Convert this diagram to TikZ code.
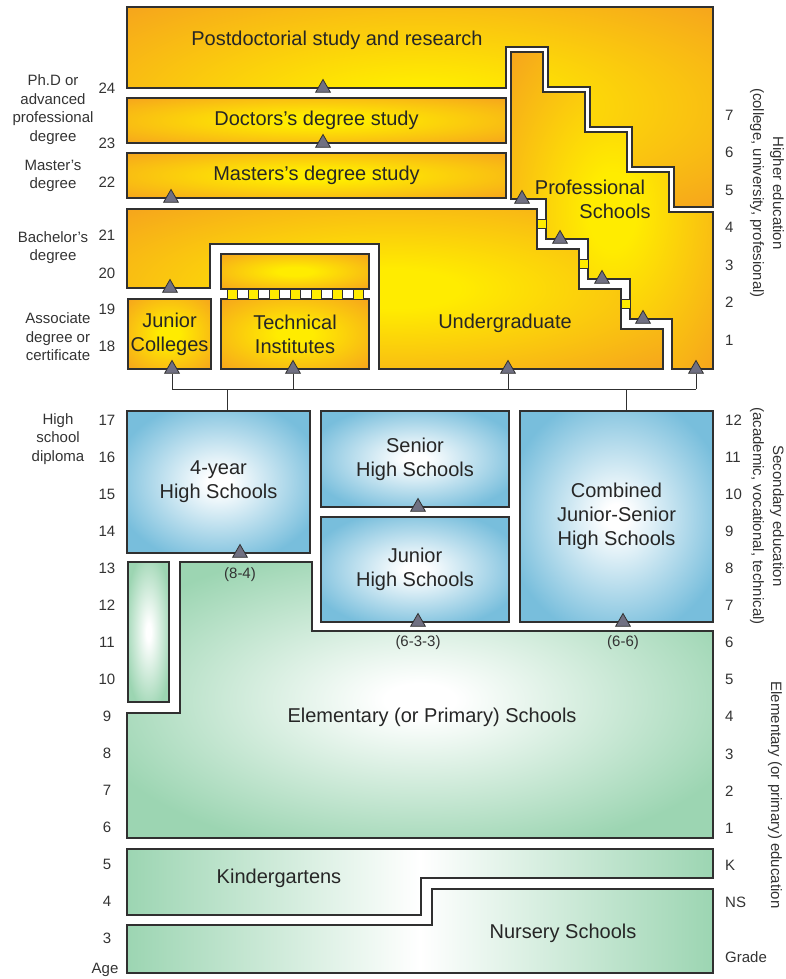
\documentclass[tikz,border=0pt]{standalone}
\usepackage{fontspec}
\setmainfont{Liberation Sans}
\usetikzlibrary{shapes.geometric}
\definecolor{gold}{RGB}{246,166,28}
\definecolor{lemon}{RGB}{255,236,0}
\definecolor{sky}{RGB}{120,190,220}
\definecolor{mint}{RGB}{156,213,178}
\definecolor{rim}{RGB}{48,48,48}
\definecolor{slate}{RGB}{112,112,130}
\pgfdeclareradialshading{glowgold}{\pgfpoint{0bp}{0bp}}{color(0bp)=(lemon); color(6bp)=(lemon); color(35bp)=(gold); color(50bp)=(gold)}
\pgfdeclareradialshading{glowsky}{\pgfpoint{0bp}{0bp}}{color(0bp)=(white); color(3bp)=(white); color(29bp)=(sky); color(50bp)=(sky)}
\pgfdeclareradialshading{glowmint}{\pgfpoint{0bp}{0bp}}{color(0bp)=(white); color(3bp)=(white); color(29bp)=(mint); color(50bp)=(mint)}
\tikzset{higher/.style={draw=rim,line width=1.2pt,shading=glowgold},secondary/.style={draw=rim,line width=1.2pt,shading=glowsky},primary/.style={draw=rim,line width=1.2pt,shading=glowmint},band/.style={draw=rim,line width=1.2pt,left color=mint,right color=mint,middle color=white},rung/.style={draw=rim,line width=.8pt,fill=lemon},entry/.style={regular polygon,regular polygon sides=3,draw=rim,fill=slate,line width=.8pt,minimum size=17pt,inner sep=0pt},feed/.style={draw=rim,line width=1pt},boxtext/.style={font=\fontsize{20}{24}\selectfont,text=black!85,align=center,inner sep=0pt},age/.style={font=\fontsize{15}{18}\selectfont,text=black!80,inner sep=0pt},note/.style={font=\fontsize{15}{18.5}\selectfont,text=black!80,align=center,inner sep=0pt}}
\begin{document}
\begin{tikzpicture}[x=1pt,y=-1pt]
\useasboundingbox (0,0) rectangle (785,979);
% higher education
\shadedraw[higher] (127,7) -- (713,7) -- (713,207) -- (674,207) -- (674,167) -- (632,167) -- (632,127) -- (590,127) -- (590,87) -- (548,87) -- (548,47) -- (506,47) -- (506,88) -- (127,88) -- cycle;
\node[boxtext] (postdoc) at (337,40) {Postdoctorial study and research};
\node[higher,shade,boxtext,minimum width=379pt,minimum height=45pt] (doctor) at (316.5,120.5) {Doctors's degree study};
\node[higher,shade,boxtext,minimum width=379pt,minimum height=45pt] (master) at (316.5,175.5) {Masters's degree study};
\shadedraw[higher] (511,52) -- (543,52) -- (543,92) -- (585,92) -- (585,132) -- (627,132) -- (627,172) -- (669,172) -- (669,212) -- (713,212) -- (713,369) -- (672,369) -- (672,319) -- (630,319) -- (630,279) -- (588,279) -- (588,239) -- (546,239) -- (546,199) -- (511,199) -- cycle;
\node[boxtext] (prof1) at (590,187) {Professional};
\node[boxtext] (prof2) at (615,211) {Schools};
\shadedraw[higher] (127,209) -- (537,209) -- (537,249) -- (579,249) -- (579,289) -- (621,289) -- (621,329) -- (663,329) -- (663,369) -- (379,369) -- (379,244) -- (210,244) -- (210,288) -- (127,288) -- cycle;
\node[boxtext] (under) at (505,323) {Undergraduate};
\node[higher,shade,boxtext,minimum width=83pt,minimum height=70pt] (jcol) at (169.5,334) {Junior\\Colleges};
\node[higher,shade,minimum width=148pt,minimum height=35pt] (techup) at (295,271.5) {};
\node[higher,shade,boxtext,minimum width=148pt,minimum height=70pt] (tech) at (295,334) {Technical\\Institutes};
\foreach \k in {0,...,6} \draw[rung] ({227+21*\k},289) rectangle ++(10,10);
\foreach \x/\y in {537/219,579/259,621/299} \draw[rung] (\x,\y) rectangle ++(9,9);
% secondary
\node[secondary,shade,boxtext,minimum width=183pt,minimum height=142pt] (hs4) at (218.5,482) {4-year\\High Schools};
\node[secondary,shade,boxtext,minimum width=188pt,minimum height=96pt] (senior) at (415,459) {Senior\\High Schools};
\node[secondary,shade,boxtext,minimum width=188pt,minimum height=105pt] (junior) at (415,569.5) {Junior\\High Schools};
\node[secondary,shade,boxtext,minimum width=193pt,minimum height=211pt] (combo) at (616.5,516.5) {Combined\\Junior-Senior\\High Schools};
% elementary and below
\node[primary,shade,minimum width=41pt,minimum height=140pt] (elemleft) at (148.5,632) {};
\shadedraw[primary] (180,562) -- (312,562) -- (312,631) -- (713,631) -- (713,838) -- (127,838) -- (127,713) -- (180,713) -- cycle;
\node[boxtext] (elem) at (432,717) {Elementary (or Primary) Schools};
\shadedraw[band] (127,849) -- (713,849) -- (713,878) -- (421,878) -- (421,915) -- (127,915) -- cycle;
\node[boxtext] (kinder) at (279,878) {Kindergartens};
\shadedraw[band] (432,889) -- (713,889) -- (713,973) -- (127,973) -- (127,925) -- (432,925) -- cycle;
\node[boxtext] (nursery) at (563,933) {Nursery Schools};
% entry marks
\node[entry] (t-pd) at (323,88) {};
\node[entry] (t-dr) at (323,143) {};
\node[entry] (t-ms) at (171,198) {};
\node[entry] (t-ba) at (170,288) {};
\node[entry] (t-pr0) at (522,199) {};
\node[entry] (t-pr1) at (560,239) {};
\node[entry] (t-pr2) at (602,279) {};
\node[entry] (t-pr3) at (643,319) {};
\node[entry] (t-jc) at (172,369) {};
\node[entry] (t-ti) at (293,369) {};
\node[entry] (t-ug) at (508,369) {};
\node[entry] (t-ps) at (696,369) {};
\node[entry] (t-hs4) at (240,553) {};
\node[entry] (t-sen) at (418,507) {};
\node[entry] (t-jun) at (418,622) {};
\node[entry] (t-com) at (623,622) {};
\node[age] (plan84) at (240,575) {(8-4)};
\node[age] (plan633) at (418,643) {(6-3-3)};
\node[age] (plan66) at (623,643) {(6-6)};
% connectors
\coordinate (bus-w) at (172,389);
\coordinate (bus-e) at (696,389);
\coordinate (drop-hs) at (227,389);
\coordinate (drop-cs) at (626,389);
\draw[feed] (bus-w) -- (bus-e);
\foreach \t in {t-jc,t-ti,t-ug,t-ps} \draw[feed] (\t.south |- bus-w) -- (\t.south);
\draw[feed] (drop-hs) -- (drop-hs |- hs4.north);
\draw[feed] (drop-cs) -- (drop-cs |- combo.north);
% ages
\foreach \a/\y in {24/88,23/143,22/182,21/235,20/273,19/309,18/346} \node[age] (age\a) at (107,\y) {\a};
\foreach \a in {3,...,17} \node[age] (age\a) at (107,{420+(17-\a)*37}) {\a};
\node[age] (agehead) at (105,970) {Age};
\node[note] (phd) at (53,109.5) {Ph.D or\\advanced\\professional\\degree};
\node[note] (msd) at (53,176) {Master's\\degree};
\node[note] (bad) at (53,247.5) {Bachelor's\\degree};
\node[note] (asd) at (58,337) {Associate\\degree or\\certificate};
\node[note] (hsd) at (58,439) {High\\school\\diploma};
% grades
\foreach \g in {1,...,7} \node[age,anchor=west] (hg\g) at (725,{340-(\g-1)*37.5}) {\g};
\foreach \g in {1,...,12} \node[age,anchor=west] (sg\g) at (725,{420+(12-\g)*37.1}) {\g};
\node[age,anchor=west] (gk) at (725,865) {K};
\node[age,anchor=west] (gns) at (725,902) {NS};
\node[age,anchor=west] (ghead) at (725,957) {Grade};
\node[note,rotate=-90,font=\fontsize{15}{20}\selectfont] (lvl-hi) at (767,193) {Higher education\\(college, university, profesional)};
\node[note,rotate=-90,font=\fontsize{15}{20}\selectfont] (lvl-se) at (767,516) {Secondary education\\(academic, vocational, technical)};
\node[note,rotate=-90] (lvl-el) at (775,795) {Elementary (or primary) education};
\end{tikzpicture}
\end{document}
